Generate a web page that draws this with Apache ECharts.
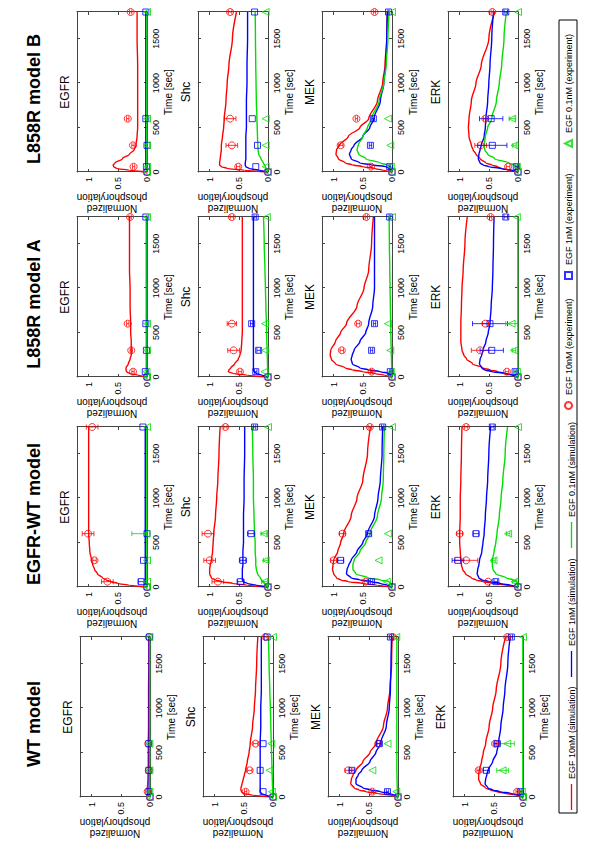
<!DOCTYPE html>
<html>
<head>
<meta charset="utf-8">
<script src="https://cdn.jsdelivr.net/npm/echarts@6/dist/echarts.min.js"></script>
<style>
  html, body { margin: 0; padding: 0; background: #fff; }
  #page { position: relative; width: 600px; height: 848px; overflow: hidden; }
  /* the figure is drawn landscape (848x600) and turned a quarter left */
  #chart { position: absolute; left: 0; top: 0; width: 848px; height: 600px;
           transform-origin: 0 0; transform: translate(0, 848px) rotate(-90deg); }
</style>
</head>
<body>
<div id="page"><div id="chart"></div></div>
<script>
// ---- data ----
const models = ['WT model', 'EGFR-WT model', 'L858R model A', 'L858R model B'];
const proteins = ['EGFR', 'Shc', 'MEK', 'ERK'];
const doses = ['EGF 10nM', 'EGF 1nM', 'EGF 0.1nM'];
const simTime = [0, 20, 40, 60, 80, 100, 150, 200, 250, 300, 400, 500, 600, 800, 1000, 1200, 1500, 1800];
const expTime = [0, 60, 300, 600, 1800];

// WT model
const wtEGFR_sim = [
  [0, 0.03, 0.04, 0.045, 0.045, 0.045, 0.04, 0.035, 0.035, 0.03, 0.03, 0.03, 0.03, 0.025, 0.025, 0.025, 0.02, 0.02],
  [0, 0.01, 0.015, 0.015, 0.015, 0.015, 0.015, 0.015, 0.015, 0.015, 0.015, 0.015, 0.015, 0.015, 0.015, 0.015, 0.015, 0.015],
  [0, 0, 0, 0.002, 0.002, 0.002, 0.002, 0.003, 0.003, 0.003, 0.003, 0.003, 0.003, 0.003, 0.003, 0.003, 0.003, 0.003]
];
const wtEGFR_exp = [[0, 0.04, 0.02, 0.03, 0.02], [0, 0.02, 0.02, 0.02, 0.01], [0, 0.01, 0.01, 0.01, 0.01]];
const wtEGFR_err = [[0, 0, 0, 0, 0], [0, 0, 0, 0, 0], [0, 0, 0, 0, 0]];

const wtShc_sim = [
  [0, 0.35, 0.5, 0.54, 0.55, 0.55, 0.53, 0.51, 0.49, 0.47, 0.44, 0.41, 0.39, 0.35, 0.32, 0.3, 0.28, 0.26],
  [0, 0.12, 0.2, 0.22, 0.22, 0.22, 0.22, 0.22, 0.22, 0.22, 0.22, 0.22, 0.22, 0.21, 0.21, 0.2, 0.2, 0.2],
  [0, 0.002, 0.004, 0.005, 0.006, 0.007, 0.01, 0.012, 0.015, 0.017, 0.02, 0.025, 0.03, 0.037, 0.045, 0.055, 0.068, 0.08]
];
const wtShc_exp = [[0, 0.47, 0.4, 0.3, 0.13], [0, 0.17, 0.22, 0.17, 0.1], [0, 0.02, 0.06, 0.03, 0]];
const wtShc_err = [[0, 0.02, 0.04, 0.04, 0.03], [0, 0, 0, 0, 0], [0, 0, 0, 0, 0]];

const wtMEK_sim = [
  [0, 0.12, 0.35, 0.55, 0.67, 0.75, 0.81, 0.8, 0.77, 0.72, 0.6, 0.48, 0.38, 0.25, 0.18, 0.14, 0.11, 0.1],
  [0, 0.05, 0.15, 0.3, 0.47, 0.6, 0.72, 0.72, 0.68, 0.62, 0.48, 0.38, 0.3, 0.2, 0.15, 0.13, 0.12, 0.11],
  [0, 0.005, 0.01, 0.01, 0.012, 0.013, 0.015, 0.017, 0.018, 0.02, 0.02, 0.02, 0.02, 0.02, 0.02, 0.02, 0.02, 0.02]
];
const wtMEK_exp = [[0, 0.44, 0.85, 0.34, 0.09], [0, 0.18, 0.79, 0.32, 0.13], [0, 0.03, 0.44, 0.18, 0.03]];
const wtMEK_err = [[0, 0.02, 0.06, 0.03, 0.02], [0, 0.02, 0.04, 0.04, 0.02], [0, 0, 0, 0, 0]];

const wtERK_sim = [
  [0, 0.1, 0.3, 0.45, 0.56, 0.64, 0.73, 0.76, 0.76, 0.75, 0.71, 0.68, 0.64, 0.58, 0.52, 0.46, 0.38, 0.3],
  [0, 0.07, 0.2, 0.4, 0.52, 0.6, 0.65, 0.64, 0.62, 0.6, 0.52, 0.45, 0.42, 0.38, 0.34, 0.31, 0.26, 0.22],
  [0, 0, 0, 0.002, 0.002, 0.003, 0.003, 0.003, 0.003, 0.003, 0.003, 0.003, 0.003, 0.003, 0.003, 0.003, 0.003, 0.003]
];
const wtERK_exp = [[0, 0.1, 0.76, 0.48, 0.27], [0, 0.04, 0.63, 0.44, 0.2], [0, 0.02, 0.35, 0.27, 0]];
const wtERK_err = [[0, 0.02, 0.03, 0.03, 0.02], [0, 0.02, 0.05, 0.04, 0.02], [0, 0, 0.1, 0.12, 0]];

// EGFR-WT model
const ewEGFR_sim = [
  [0, 0.3, 0.5, 0.62, 0.7, 0.76, 0.85, 0.9, 0.93, 0.95, 0.98, 0.99, 1.0, 1.0, 1.0, 1.0, 1.0, 1.0],
  [0, 0.01, 0.02, 0.025, 0.03, 0.03, 0.03, 0.03, 0.03, 0.03, 0.03, 0.03, 0.03, 0.03, 0.03, 0.03, 0.03, 0.03],
  [0, 0, 0, 0.002, 0.002, 0.003, 0.003, 0.003, 0.003, 0.003, 0.003, 0.003, 0.003, 0.003, 0.003, 0.003, 0.003, 0.003]
];
const ewEGFR_exp = [[0, 0.68, 0.9, 1.01, 0.94], [0, 0.1, 0.06, 0.0, 0.07], [0, 0.0, 0.0, 0.01, 0]];
const ewEGFR_err = [[0, 0.1, 0.03, 0.1, 0.1], [0, 0.05, 0, 0, 0], [0, 0, 0, 0.25, 0]];

const ewShc_sim = [
  [0, 0.35, 0.6, 0.8, 0.9, 0.97, 1.0, 1.0, 0.99, 0.97, 0.95, 0.94, 0.93, 0.9, 0.88, 0.86, 0.84, 0.82],
  [0, 0.2, 0.35, 0.42, 0.44, 0.44, 0.44, 0.44, 0.43, 0.43, 0.43, 0.42, 0.42, 0.42, 0.41, 0.41, 0.4, 0.4],
  [0, 0.03, 0.06, 0.08, 0.11, 0.13, 0.18, 0.2, 0.21, 0.21, 0.22, 0.22, 0.23, 0.24, 0.25, 0.25, 0.26, 0.27]
];
const ewShc_exp = [[0, 0.86, 1.0, 1.03, 0.73], [0, 0.47, 0.43, 0.29, 0.23], [0, 0.06, 0.04, 0.07, 0]];
const ewShc_err = [[0, 0.1, 0.1, 0.1, 0.03], [0, 0.06, 0.06, 0.06, 0.02], [0, 0.05, 0.04, 0.05, 0]];

const ewMEK_sim = [
  [0, 0.25, 0.5, 0.75, 0.88, 0.95, 1.0, 1.02, 1.01, 1.0, 0.93, 0.88, 0.83, 0.7, 0.6, 0.5, 0.42, 0.37],
  [0, 0.07, 0.2, 0.35, 0.55, 0.7, 0.78, 0.77, 0.74, 0.7, 0.6, 0.5, 0.42, 0.3, 0.24, 0.2, 0.17, 0.16],
  [0, 0.005, 0.02, 0.05, 0.2, 0.4, 0.62, 0.67, 0.67, 0.65, 0.55, 0.45, 0.38, 0.25, 0.18, 0.15, 0.14, 0.13]
];
const ewMEK_exp = [[0, 0.45, 1.0, 0.85, 0.38], [0, 0.35, 0.88, 0.4, 0.16], [0, 0.09, 0.23, 0.07, 0]];
const ewMEK_err = [[0, 0.03, 0.05, 0.05, 0.03], [0, 0.02, 0.05, 0.04, 0.02], [0, 0, 0, 0, 0]];

const ewERK_sim = [
  [0, 0.2, 0.4, 0.6, 0.72, 0.8, 0.9, 0.95, 0.97, 0.98, 0.99, 1.0, 1.0, 0.99, 0.99, 0.98, 0.97, 0.96],
  [0, 0.12, 0.3, 0.5, 0.62, 0.67, 0.7, 0.69, 0.67, 0.66, 0.62, 0.6, 0.58, 0.56, 0.54, 0.52, 0.5, 0.47],
  [0, 0.002, 0.01, 0.02, 0.08, 0.2, 0.38, 0.43, 0.44, 0.44, 0.41, 0.38, 0.36, 0.32, 0.29, 0.26, 0.22, 0.18]
];
const ewERK_exp = [[0, 0.51, 0.89, 1.0, 0.89], [0, 0.38, 1.03, 0.72, 0.44], [0, 0.06, 0.42, 0.17, 0]];
const ewERK_err = [[0, 0.05, 0.2, 0.05, 0.03], [0, 0.03, 0.1, 0.05, 0.03], [0, 0.03, 0.03, 0.03, 0]];

// L858R model A
const laEGFR_sim = [
  [0, 0.15, 0.3, 0.35, 0.36, 0.36, 0.32, 0.29, 0.27, 0.27, 0.27, 0.28, 0.28, 0.29, 0.29, 0.3, 0.3, 0.3],
  [0, 0.005, 0.01, 0.01, 0.01, 0.01, 0.01, 0.01, 0.01, 0.01, 0.01, 0.01, 0.01, 0.01, 0.01, 0.01, 0.01, 0.01],
  [0, 0, 0, 0, 0, 0, 0.002, 0.002, 0.002, 0.002, 0.002, 0.002, 0.002, 0.002, 0.002, 0.002, 0.002, 0.002]
];
const laEGFR_exp = [[0, 0.24, 0.27, 0.33, 0.29], [0, 0.03, 0.01, 0.02, 0.02], [0, 0.01, 0, 0, 0]];
const laEGFR_err = [[0, 0.02, 0.02, 0.02, 0.02], [0, 0, 0, 0, 0], [0, 0, 0, 0, 0]];

const laShc_sim = [
  [0, 0.35, 0.6, 0.68, 0.67, 0.64, 0.57, 0.51, 0.48, 0.46, 0.45, 0.44, 0.44, 0.44, 0.44, 0.44, 0.44, 0.44],
  [0, 0.1, 0.2, 0.24, 0.25, 0.25, 0.25, 0.25, 0.25, 0.25, 0.25, 0.25, 0.25, 0.25, 0.25, 0.25, 0.25, 0.25],
  [0, 0.002, 0.004, 0.005, 0.006, 0.007, 0.009, 0.011, 0.013, 0.015, 0.02, 0.024, 0.028, 0.036, 0.044, 0.052, 0.065, 0.077]
];
const laShc_exp = [[0, 0.48, 0.59, 0.62, 0.62], [0, 0.21, 0.16, 0.28, 0.22], [0, 0.06, 0.05, 0.05, 0.02]];
const laShc_err = [[0, 0.03, 0.1, 0.08, 0.03], [0, 0.02, 0.03, 0.02, 0.02], [0, 0, 0, 0, 0]];

const laMEK_sim = [
  [0, 0.12, 0.3, 0.5, 0.68, 0.8, 0.97, 1.04, 1.06, 1.05, 0.97, 0.88, 0.78, 0.6, 0.48, 0.4, 0.35, 0.32],
  [0, 0.02, 0.05, 0.2, 0.4, 0.55, 0.68, 0.7, 0.68, 0.65, 0.55, 0.45, 0.4, 0.33, 0.3, 0.3, 0.3, 0.3],
  [0, 0.001, 0.002, 0.003, 0.004, 0.005, 0.007, 0.009, 0.011, 0.013, 0.017, 0.02, 0.023, 0.028, 0.033, 0.038, 0.045, 0.05]
];
const laMEK_exp = [[0, 0.35, 0.86, 0.58, 0.44], [0, 0.03, 0.35, 0.3, 0.04], [0, 0.02, 0.03, 0.07, 0]];
const laMEK_err = [[0, 0.02, 0.03, 0.03, 0.02], [0, 0.01, 0.02, 0.02, 0.01], [0, 0, 0, 0, 0]];

const laERK_sim = [
  [0, 0.1, 0.25, 0.35, 0.48, 0.6, 0.78, 0.88, 0.93, 0.96, 0.98, 0.98, 0.98, 0.97, 0.96, 0.94, 0.91, 0.87],
  [0, 0.08, 0.2, 0.45, 0.57, 0.62, 0.66, 0.65, 0.62, 0.6, 0.55, 0.51, 0.48, 0.46, 0.44, 0.43, 0.42, 0.41],
  [0, 0, 0, 0.002, 0.002, 0.003, 0.003, 0.003, 0.003, 0.003, 0.003, 0.003, 0.003, 0.003, 0.003, 0.003, 0.003, 0.003]
];
const laERK_exp = [[0, 0.19, 0.65, 0.56, 0.47], [0, 0.05, 0.45, 0.48, 0.21], [0, 0.02, 0.07, 0.11, 0.02]];
const laERK_err = [[0, 0.03, 0.15, 0.05, 0.02], [0, 0.02, 0.2, 0.3, 0.03], [0, 0, 0.03, 0.1, 0]];

// L858R model B
const lbEGFR_sim = [
  [0, 0.3, 0.52, 0.57, 0.58, 0.55, 0.42, 0.3, 0.22, 0.19, 0.17, 0.16, 0.16, 0.16, 0.16, 0.16, 0.17, 0.17],
  [0, 0.005, 0.01, 0.015, 0.02, 0.02, 0.02, 0.02, 0.02, 0.02, 0.02, 0.02, 0.02, 0.02, 0.02, 0.02, 0.02, 0.02],
  [0, 0, 0, 0, 0, 0, 0.002, 0.002, 0.002, 0.002, 0.002, 0.002, 0.002, 0.002, 0.002, 0.002, 0.002, 0.002]
];
const lbEGFR_exp = [[0, 0.23, 0.24, 0.33, 0.28], [0, 0.01, 0, 0.02, 0.02], [0, 0, 0, 0, 0]];
const lbEGFR_err = [[0, 0.02, 0.02, 0.02, 0.02], [0, 0, 0, 0, 0], [0, 0, 0, 0, 0]];

const lbShc_sim = [
  [0, 0.4, 0.7, 0.8, 0.83, 0.83, 0.82, 0.81, 0.8, 0.8, 0.78, 0.76, 0.75, 0.72, 0.7, 0.67, 0.61, 0.54],
  [0, 0.15, 0.32, 0.38, 0.39, 0.39, 0.38, 0.38, 0.38, 0.38, 0.38, 0.37, 0.37, 0.37, 0.36, 0.36, 0.35, 0.35],
  [0, 0.015, 0.03, 0.045, 0.06, 0.08, 0.12, 0.16, 0.17, 0.175, 0.18, 0.185, 0.19, 0.2, 0.205, 0.21, 0.215, 0.22]
];
const lbShc_exp = [[0, 0.51, 0.62, 0.65, 0.65], [0, 0.21, 0.18, 0.27, 0.23], [0, 0.04, 0.04, 0.04, 0.04]];
const lbShc_err = [[0, 0.03, 0.1, 0.1, 0.03], [0, 0, 0, 0, 0], [0, 0, 0, 0, 0]];

const lbMEK_sim = [
  [0, 0.15, 0.3, 0.5, 0.68, 0.8, 0.92, 0.96, 0.95, 0.9, 0.75, 0.55, 0.4, 0.25, 0.16, 0.12, 0.09, 0.08],
  [0, 0.02, 0.05, 0.1, 0.35, 0.55, 0.7, 0.73, 0.7, 0.65, 0.5, 0.38, 0.31, 0.2, 0.14, 0.11, 0.09, 0.08],
  [0, 0.005, 0.01, 0.02, 0.08, 0.2, 0.45, 0.57, 0.6, 0.58, 0.5, 0.42, 0.35, 0.22, 0.14, 0.1, 0.07, 0.05]
];
const lbMEK_exp = [[0, 0.36, 0.88, 0.61, 0.3], [0, 0.04, 0.37, 0.32, 0.06], [0, 0.02, 0.03, 0.07, 0]];
const lbMEK_err = [[0, 0.02, 0.04, 0.02, 0.02], [0, 0.01, 0.02, 0.02, 0.01], [0, 0, 0, 0, 0]];

const lbERK_sim = [
  [0, 0.15, 0.28, 0.35, 0.45, 0.55, 0.65, 0.72, 0.77, 0.8, 0.84, 0.85, 0.84, 0.8, 0.72, 0.63, 0.5, 0.4],
  [0, 0.1, 0.3, 0.5, 0.6, 0.65, 0.68, 0.67, 0.65, 0.63, 0.58, 0.56, 0.55, 0.52, 0.5, 0.48, 0.45, 0.42],
  [0, 0.002, 0.01, 0.02, 0.07, 0.15, 0.4, 0.52, 0.57, 0.58, 0.56, 0.52, 0.45, 0.37, 0.32, 0.28, 0.24, 0.2]
];
const lbERK_exp = [[0, 0.17, 0.64, 0.56, 0.44], [0, 0.03, 0.44, 0.46, 0.21], [0, 0.02, 0.06, 0.1, 0]];
const lbERK_err = [[0, 0.03, 0.1, 0.03, 0.02], [0, 0.02, 0.25, 0.2, 0.03], [0, 0, 0.03, 0.05, 0]];

// ---- layout / style ----
const colors = ['#ff0000', '#0000ff', '#00dd00'];
const symbols = ['circle', 'rect', 'triangle'];
const symbolSizes = [7, 6, 7];
const font = '"Liberation Sans", Arial, Helvetica, sans-serif';
const gridLeft = [51, 261, 471, 676];
const gridTop = [[80, 203, 328, 453], [77, 198, 322, 448], [77, 198, 322, 448], [77, 198, 322, 448]];
const gridW = 160, gridH = 70;
const axisColor = '#444';

const panels = [
  [[wtEGFR_sim, wtEGFR_exp, wtEGFR_err], [wtShc_sim, wtShc_exp, wtShc_err], [wtMEK_sim, wtMEK_exp, wtMEK_err], [wtERK_sim, wtERK_exp, wtERK_err]],
  [[ewEGFR_sim, ewEGFR_exp, ewEGFR_err], [ewShc_sim, ewShc_exp, ewShc_err], [ewMEK_sim, ewMEK_exp, ewMEK_err], [ewERK_sim, ewERK_exp, ewERK_err]],
  [[laEGFR_sim, laEGFR_exp, laEGFR_err], [laShc_sim, laShc_exp, laShc_err], [laMEK_sim, laMEK_exp, laMEK_err], [laERK_sim, laERK_exp, laERK_err]],
  [[lbEGFR_sim, lbEGFR_exp, lbEGFR_err], [lbShc_sim, lbShc_exp, lbShc_err], [lbMEK_sim, lbMEK_exp, lbMEK_err], [lbERK_sim, lbERK_exp, lbERK_err]]
];

function errorBars(color) {
  return function (params, api) {
    const t = api.value(0), v = api.value(1), e = api.value(2);
    const lo = api.coord([t, Math.max(0, v - e)]);
    const hi = api.coord([t, v + e]);
    const c = 2.5;
    const st = { stroke: color, lineWidth: 0.8 };
    return {
      type: 'group',
      children: [
        { type: 'line', shape: { x1: lo[0], y1: lo[1], x2: hi[0], y2: hi[1] }, style: st },
        { type: 'line', shape: { x1: lo[0] - c, y1: lo[1], x2: lo[0] + c, y2: lo[1] }, style: st },
        { type: 'line', shape: { x1: hi[0] - c, y1: hi[1], x2: hi[0] + c, y2: hi[1] }, style: st }
      ]
    };
  };
}

const plainNumber = v => String(v);
const grids = [], xAxes = [], yAxes = [], series = [], graphics = [];

models.forEach((model, m) => {
  graphics.push({
    type: 'text', x: gridLeft[m] + gridW / 2 - 7, y: 34,
    style: { text: model, fill: '#000', font: 'bold 18px ' + font,
             align: 'center', verticalAlign: 'middle', textAlign: 'center', textVerticalAlign: 'middle' }
  });
  proteins.forEach((prot, p) => {
    const i = grids.length;
    const top = gridTop[m][p];
    grids.push({ left: gridLeft[m], top: top, width: gridW, height: gridH, containLabel: false, outerBoundsMode: 'none' });
    graphics.push({
      type: 'text', x: gridLeft[m] + gridW / 2, y: top - 12,
      style: { text: prot, fill: '#000', font: '12px ' + font,
               align: 'center', verticalAlign: 'middle', textAlign: 'center', textVerticalAlign: 'middle' }
    });
    const tickStyle = { inside: true, length: 3, lineStyle: { color: axisColor, width: 1 } };
    const lineStyle = { show: true, onZero: false, lineStyle: { color: axisColor, width: 1 } };
    xAxes.push({
      gridIndex: i, type: 'value', position: 'bottom', min: 0, max: 1800, interval: 500,
      name: 'Time [sec]', nameLocation: 'middle', nameGap: 16, nameMoveOverlap: false,
      nameTextStyle: { fontSize: 10, color: '#000', fontFamily: font },
      axisLine: lineStyle, axisTick: tickStyle, splitLine: { show: false },
      axisLabel: { fontSize: 9, color: '#000', margin: 4, showMaxLabel: false, fontFamily: font, formatter: plainNumber }
    });
    xAxes.push({
      gridIndex: i, type: 'value', position: 'top', min: 0, max: 1800, interval: 500,
      axisLine: lineStyle, axisTick: tickStyle, splitLine: { show: false }, axisLabel: { show: false }
    });
    yAxes.push({
      gridIndex: i, type: 'value', position: 'left', min: 0, max: 1.2, interval: 0.5,
      name: 'Normalized\nphosphorylation', nameLocation: 'middle', nameGap: 20, nameMoveOverlap: false,
      nameTextStyle: { fontSize: 10, color: '#000', fontFamily: font, lineHeight: 11 },
      axisLine: lineStyle, axisTick: tickStyle, splitLine: { show: false },
      axisLabel: { fontSize: 9, color: '#000', margin: 5, showMaxLabel: false, fontFamily: font, formatter: plainNumber }
    });
    yAxes.push({
      gridIndex: i, type: 'value', position: 'right', min: 0, max: 1.2, interval: 0.5,
      axisLine: lineStyle, axisTick: tickStyle, splitLine: { show: false }, axisLabel: { show: false }
    });

    const [sim, exp, err] = panels[m][p];
    doses.forEach((dose, d) => {
      series.push({
        type: 'line', name: dose + ' (simulation)', xAxisIndex: 2 * i, yAxisIndex: 2 * i,
        data: simTime.map((t, k) => [t, sim[d][k]]),
        smooth: 0.3, smoothMonotone: 'x', symbol: 'none', silent: true,
        lineStyle: { color: colors[d], width: 1.4 }, itemStyle: { color: colors[d] }, z: 2
      });
      series.push({
        type: 'custom', name: 'err' + i + '_' + d, xAxisIndex: 2 * i, yAxisIndex: 2 * i,
        data: expTime.map((t, k) => [t, exp[d][k], err[d][k]]).filter(r => r[2] > 0),
        encode: { x: 0, y: 1 }, renderItem: errorBars(colors[d]), silent: true, z: 3
      });
      series.push({
        type: 'scatter', name: dose + ' (experiment)', xAxisIndex: 2 * i, yAxisIndex: 2 * i,
        data: expTime.map((t, k) => [t, exp[d][k]]),
        symbol: symbols[d], symbolSize: symbolSizes[d], clip: false, silent: true,
        itemStyle: { color: 'rgba(255,255,255,0)', borderColor: colors[d], borderWidth: 1 }, z: 4
      });
    });
  });
});

// legend frame and entries (one legend per entry to place each like the original)
graphics.push({
  type: 'rect', shape: { x: 35, y: 559, width: 793, height: 18 },
  style: { fill: 'none', stroke: '#000', lineWidth: 1 }
});
const legendLeft = [38, 171, 300, 438, 568, 700];
const legendNames = doses.map(d => d + ' (simulation)').concat(doses.map(d => d + ' (experiment)'));
const legends = legendNames.map((name, k) => {
  const isLine = k < 3;
  return {
    left: legendLeft[k], top: isLine ? 567 : 564, orient: 'horizontal', padding: 0,
    itemWidth: isLine ? 26 : 7, itemHeight: isLine ? 1.3 : 7, itemGap: 0, selectedMode: false,
    textStyle: { fontSize: 9, color: '#000', fontFamily: font, padding: [0, 0, 0, isLine ? 0 : 2] },
    data: [isLine ? { name: name, icon: 'rect', itemStyle: { color: colors[k], borderWidth: 0 } } : { name: name }]
  };
});

const chart = echarts.init(document.getElementById('chart'), null, { renderer: 'svg' });
chart.setOption({
  animation: false,
  backgroundColor: '#fff',
  textStyle: { fontFamily: font },
  grid: grids,
  xAxis: xAxes,
  yAxis: yAxes,
  legend: legends,
  graphic: graphics,
  series: series
});
</script>
</body>
</html>
